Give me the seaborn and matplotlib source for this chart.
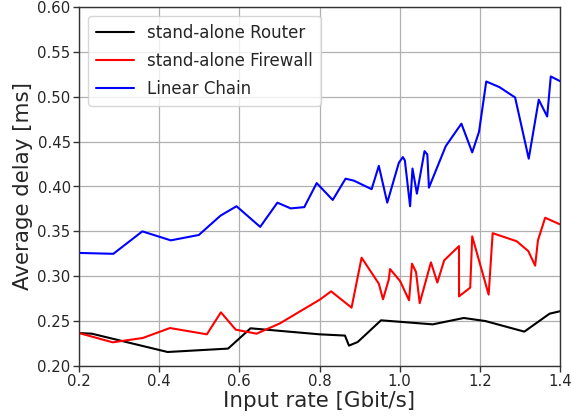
import matplotlib
matplotlib.use("Agg")
import matplotlib.pyplot as plt
import seaborn as sns
import pandas as pd

# Measured average delay per input rate
router_rate = [0.200, 0.232, 0.421, 0.572, 0.628, 0.800, 0.8635, 0.8735, 0.8952,
               0.9535, 1.0826, 1.160, 1.2137, 1.311, 1.374, 1.400]
router_delay = [0.2367, 0.236, 0.2156, 0.2194, 0.242, 0.2353, 0.2339, 0.2227, 0.2267,
                0.2509, 0.2464, 0.2535, 0.2501, 0.2383, 0.2583, 0.261]

firewall_rate = [0.200, 0.284, 0.359, 0.427, 0.519, 0.554, 0.591, 0.643, 0.700, 0.801,
                 0.829, 0.880, 0.905, 0.948, 0.9585, 0.9727, 0.976, 1.001, 1.0234,
                 1.0308, 1.0408, 1.050, 1.078, 1.094, 1.111, 1.148, 1.1481, 1.176,
                 1.181, 1.222, 1.232, 1.292, 1.321, 1.338, 1.345, 1.363, 1.400]
firewall_delay = [0.2367, 0.2264, 0.2312, 0.2423, 0.2353, 0.2598, 0.2405, 0.236, 0.2472,
                  0.274, 0.2832, 0.265, 0.3207, 0.2917, 0.2743, 0.2962, 0.308, 0.2947,
                  0.2732, 0.314, 0.3047, 0.270, 0.3155, 0.293, 0.3177, 0.3336, 0.2776,
                  0.2873, 0.3444, 0.2795, 0.348, 0.339, 0.328, 0.3118, 0.340, 0.3652,
                  0.3578]

chain_rate = [0.200, 0.2856, 0.358, 0.429, 0.499, 0.553, 0.593, 0.652, 0.695, 0.728,
              0.762, 0.793, 0.833, 0.865, 0.886, 0.930, 0.948, 0.969, 0.998, 1.008,
              1.013, 1.026, 1.032, 1.043, 1.062, 1.069, 1.073, 1.115, 1.154, 1.181,
              1.198, 1.216, 1.249, 1.288, 1.322, 1.347, 1.368, 1.377, 1.400]
chain_delay = [0.326, 0.325, 0.350, 0.340, 0.346, 0.3675, 0.378, 0.355, 0.382, 0.3756,
               0.377, 0.4038, 0.385, 0.4087, 0.4065, 0.397, 0.423, 0.382, 0.4265, 0.4328,
               0.429, 0.378, 0.420, 0.392, 0.4394, 0.4357, 0.3987, 0.445, 0.470, 0.438,
               0.461, 0.517, 0.5107, 0.4992, 0.431, 0.4967, 0.478, 0.5226, 0.5174]

series = [
    ("stand-alone Router", router_rate, router_delay, "black"),
    ("stand-alone Firewall", firewall_rate, firewall_delay, "red"),
    ("Linear Chain", chain_rate, chain_delay, "blue"),
]

sns.set_style("whitegrid")
plt.rcParams["font.family"] = ["DejaVu Sans"]

fig = plt.figure(figsize=(5.71, 4.19), dpi=100)
ax = fig.add_axes([79 / 571, 1 - 366 / 419, 481 / 571, 359 / 419])

for name, xs, ys, color in series:
    df = pd.DataFrame({"rate": xs, "delay": ys})
    sns.lineplot(data=df, x="rate", y="delay", ax=ax, color=color, label=name,
                 sort=False, estimator=None, linewidth=1.5)

ax.set_xlim(0.2, 1.4)
ax.set_ylim(0.20, 0.60)
ax.set_xticks([0.2, 0.4, 0.6, 0.8, 1.0, 1.2, 1.4])
ax.set_yticks([0.20, 0.25, 0.30, 0.35, 0.40, 0.45, 0.50, 0.55, 0.60])
ax.set_xticklabels(["0.2", "0.4", "0.6", "0.8", "1.0", "1.2", "1.4"])
ax.set_yticklabels(["0.20", "0.25", "0.30", "0.35", "0.40", "0.45", "0.50", "0.55", "0.60"])
ax.set_xlabel("Input rate [Gbit/s]", fontsize=15.4, labelpad=1)
ax.set_ylabel("Average delay [ms]", fontsize=15.4, labelpad=3)
ax.tick_params(axis="both", labelsize=10.7, length=4, width=1, color="#333333",
               direction="out", bottom=True, left=True, pad=2)
ax.grid(True, color="#b0b0b0", linewidth=0.9)
for sp in ax.spines.values():
    sp.set_color("#333333")
    sp.set_linewidth(1.0)

leg = ax.legend(loc="upper left", fontsize=12, frameon=True, framealpha=0.8,
                borderpad=0.45, handlelength=2.3, labelspacing=0.62,
                borderaxespad=0.55)
leg.get_frame().set_edgecolor("#cccccc")

fig.savefig("out.png", dpi=100)
